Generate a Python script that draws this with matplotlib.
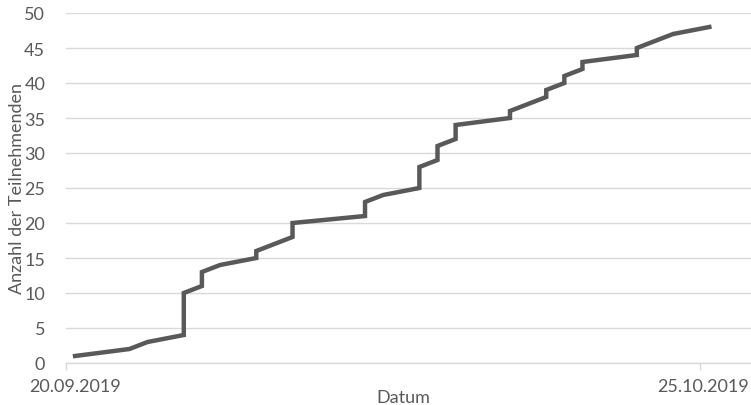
import matplotlib
matplotlib.use("Agg")
import matplotlib.pyplot as plt
import matplotlib.dates as mdates
import matplotlib.transforms as mtransforms
import pandas as pd

# cumulative registrations; repeated dates give the vertical steps
dates = ["20.09.2019", "23.09.2019", "24.09.2019", "26.09.2019", "26.09.2019",
         "27.09.2019", "27.09.2019", "28.09.2019", "30.09.2019", "30.09.2019",
         "02.10.2019", "02.10.2019", "06.10.2019", "06.10.2019", "07.10.2019",
         "09.10.2019", "09.10.2019", "10.10.2019", "10.10.2019", "11.10.2019",
         "11.10.2019", "14.10.2019", "14.10.2019", "16.10.2019", "16.10.2019",
         "17.10.2019", "17.10.2019", "18.10.2019", "18.10.2019", "21.10.2019",
         "21.10.2019", "23.10.2019", "25.10.2019"]
participants = [1, 2, 3, 4, 10, 11, 13, 14, 15, 16, 18, 20, 21, 23, 24, 25, 28,
                29, 31, 32, 34, 35, 36, 38, 39, 40, 41, 42, 43, 44, 45, 47, 48]
x_labels = ["20.09.2019", "25.10.2019"]
y_ticks = [0, 5, 10, 15, 20, 25, 30, 35, 40, 45, 50]

x = pd.to_datetime(dates, format="%d.%m.%Y")
label_dates = pd.to_datetime(x_labels, format="%d.%m.%Y")

text_col = "#595959"
grid_col = "#D9D9D9"
fs = 13
plt.rcParams["font.family"] = ["Lato", "DejaVu Sans"]

fig = plt.figure(figsize=(7.51, 4.06), dpi=100)
ax = fig.add_axes([66 / 751, 42 / 406, 685 / 751, 350 / 406])

ax.plot(x, participants, color="#595959", lw=3.2, solid_joinstyle="miter")

start = mdates.date2num(label_dates[0])
ax.set_xlim(start - 0.5, start + 37.3)
ax.set_ylim(0, 50)

ax.set_yticks(y_ticks)
ax.yaxis.grid(True, color=grid_col, lw=1.0)
ax.set_axisbelow(True)
ax.tick_params(axis="y", length=0, pad=15, labelsize=fs, labelcolor=text_col)

# labels on the day centres, tick marks on the day boundaries
ax.set_xticks(mdates.date2num(label_dates))
ax.set_xticklabels(x_labels)
ax.set_xticks([start - 0.5, start + 34.5], minor=True)
ax.tick_params(axis="x", which="major", length=0, pad=11, labelsize=fs,
               labelcolor=text_col)
ax.tick_params(axis="x", which="minor", length=5, color=grid_col, width=1.0)

# last date label nudged left so it stays inside the figure
last = ax.get_xticklabels()[-1]
shift = mtransforms.ScaledTranslation(-6 / 100, 0, fig.dpi_scale_trans)
last.set_transform(last.get_transform() + shift)

for s in ["top", "right", "left"]:
    ax.spines[s].set_visible(False)
ax.spines["bottom"].set_color(grid_col)
ax.spines["bottom"].set_linewidth(1.0)

fig.text(403 / 751, 1 - 398 / 406, "Datum", ha="center", va="center",
         fontsize=fs, color=text_col)
fig.text(17 / 751, 1 - 189 / 406, "Anzahl der Teilnehmenden", ha="center",
         va="center", rotation=90, fontsize=fs, color=text_col)

fig.savefig("out.png", dpi=100)
